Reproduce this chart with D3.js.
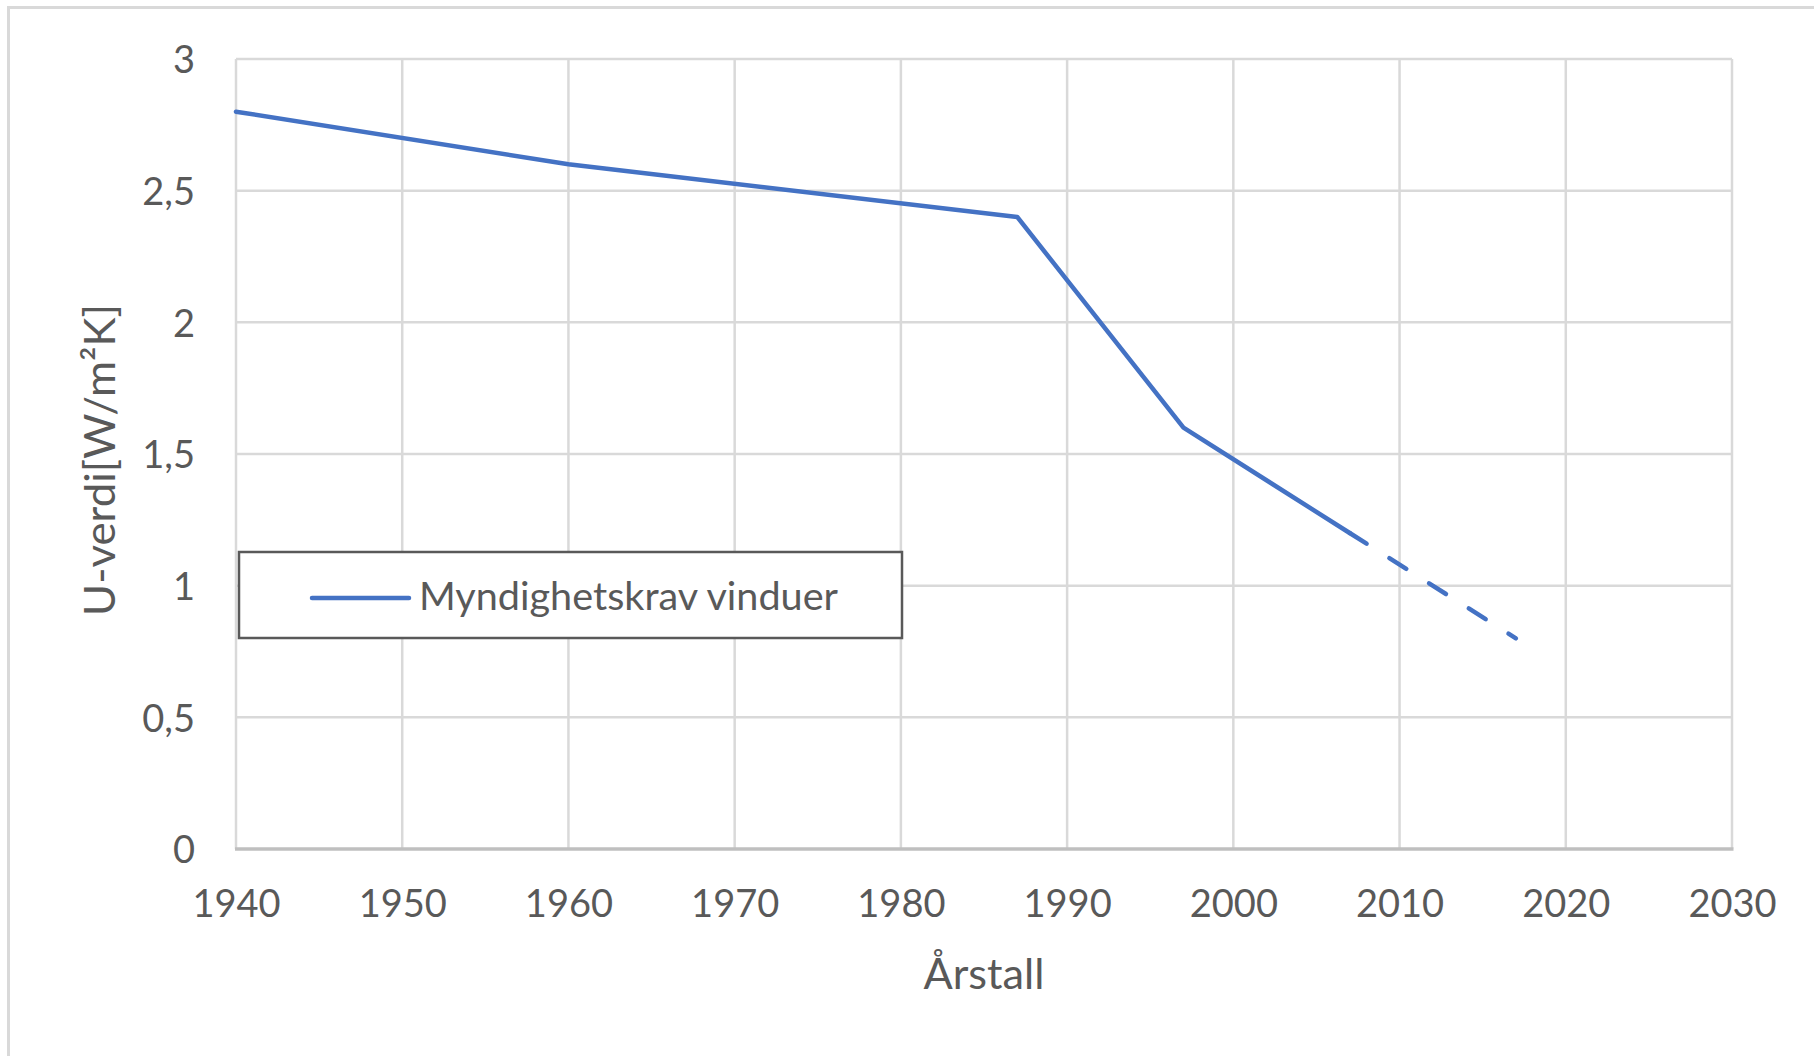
<!DOCTYPE html>
<html>
<head>
<meta charset="utf-8">
<script src="https://cdn.jsdelivr.net/npm/d3@7"></script>
<style>
  html, body { margin: 0; padding: 0; background: #fff; }
  svg { display: block; }
  text { font-family: Lato, "Open Sans", sans-serif; fill: #595959; }
</style>
</head>
<body>
<svg id="chart" width="1814" height="1056"></svg>
<script>
// ---- data ----
const years  = [1940, 1960, 1987, 1997, 2007, 2017];
const uValues = [2.8, 2.6, 2.4, 1.6, 1.2, 0.8];
const dashedFromIndex = 4; // segment 2007 -> 2017 is dashed
const xTicks = [1940, 1950, 1960, 1970, 1980, 1990, 2000, 2010, 2020, 2030];
const yTicks = [0, 0.5, 1, 1.5, 2, 2.5, 3];
const yTickLabels = ["0", "0,5", "1", "1,5", "2", "2,5", "3"];
const seriesName = "Myndighetskrav vinduer";
const xTitle = "Årstall";
const yTitle = "U-verdi[W/m²K]";

const W = 1814, H = 1056;
const plot = { left: 236, right: 1732, top: 59, bottom: 849 };

const svg = d3.select("#chart");

// outer chart border
svg.append("rect")
  .attr("x", 8.5).attr("y", 7.5)
  .attr("width", W + 20).attr("height", H + 20)
  .attr("fill", "#fff").attr("stroke", "#d9d9d9").attr("stroke-width", 3);

const x = d3.scaleLinear().domain([1940, 2030]).range([plot.left, plot.right]);
const y = d3.scaleLinear().domain([0, 3]).range([plot.bottom, plot.top]);

// gridlines
const grid = svg.append("g");
grid.selectAll("line.v").data(xTicks).join("line")
  .attr("x1", d => x(d)).attr("x2", d => x(d))
  .attr("y1", plot.top).attr("y2", plot.bottom)
  .attr("stroke", "#d9d9d9").attr("stroke-width", 2.5);
grid.selectAll("line.h").data(yTicks.filter(d => d > 0)).join("line")
  .attr("x1", plot.left).attr("x2", plot.right)
  .attr("y1", d => y(d)).attr("y2", d => y(d))
  .attr("stroke", "#d9d9d9").attr("stroke-width", 2.5);

// x axis line
svg.append("line")
  .attr("x1", plot.left - 1).attr("x2", plot.right + 1.5)
  .attr("y1", y(0)).attr("y2", y(0))
  .attr("stroke", "#bfbfbf").attr("stroke-width", 3.5);

// axes via d3 (labels only)
const xAxis = d3.axisBottom(x).tickValues(xTicks).tickFormat(d3.format("d")).tickSize(0).tickPadding(0);
const gx = svg.append("g").attr("transform", `translate(0,${plot.bottom})`).call(xAxis);
gx.select(".domain").remove();
gx.selectAll("text")
  .attr("y", 68).attr("dy", null)
  .style("font-size", "38px").style("fill", "#595959")
  .style("font-family", "Lato, 'Open Sans', sans-serif");

const yAxis = d3.axisLeft(y).tickValues(yTicks).tickFormat((d, i) => yTickLabels[i]).tickSize(0).tickPadding(0);
const gy = svg.append("g").attr("transform", `translate(${plot.left},0)`).call(yAxis);
gy.select(".domain").remove();
gy.selectAll("text")
  .attr("x", -41).attr("dy", "0.36em")
  .style("font-size", "38px").style("fill", "#595959")
  .style("font-family", "Lato, 'Open Sans', sans-serif");

// series
const pts = years.map((yr, i) => [yr, uValues[i]]);
const line = d3.line().x(d => x(d[0])).y(d => y(d[1]));
const blue = "#4472c4";
svg.append("path")
  .attr("d", line(pts.slice(0, dashedFromIndex + 1)))
  .attr("fill", "none").attr("stroke", blue).attr("stroke-width", 4.5)
  .attr("stroke-linejoin", "round").attr("stroke-linecap", "round");
svg.append("path")
  .attr("d", line(pts.slice(dashedFromIndex)))
  .attr("fill", "none").attr("stroke", blue).attr("stroke-width", 4.5)
  .attr("stroke-linecap", "round").attr("stroke-dasharray", "20,27");

// legend
const lg = svg.append("g");
lg.append("rect")
  .attr("x", 239).attr("y", 552).attr("width", 663).attr("height", 86)
  .attr("fill", "#fff").attr("stroke", "#595959").attr("stroke-width", 2.5);
lg.append("line")
  .attr("x1", 312).attr("x2", 409).attr("y1", 598).attr("y2", 598)
  .attr("stroke", blue).attr("stroke-width", 4.5).attr("stroke-linecap", "round");
lg.append("text")
  .attr("x", 419).attr("y", 610)
  .attr("textLength", 419).attr("lengthAdjust", "spacingAndGlyphs")
  .style("font-size", "39px")
  .text(seriesName);

// axis titles
svg.append("text")
  .attr("x", (plot.left + plot.right) / 2).attr("y", 989)
  .attr("text-anchor", "middle")
  .attr("textLength", 121).attr("lengthAdjust", "spacingAndGlyphs")
  .style("font-size", "43px")
  .text(xTitle);

svg.append("text")
  .attr("transform", `translate(115,${460}) rotate(-90)`)
  .attr("text-anchor", "middle")
  .attr("textLength", 312).attr("lengthAdjust", "spacingAndGlyphs")
  .style("font-size", "43px")
  .text(yTitle);
</script>
</body>
</html>
